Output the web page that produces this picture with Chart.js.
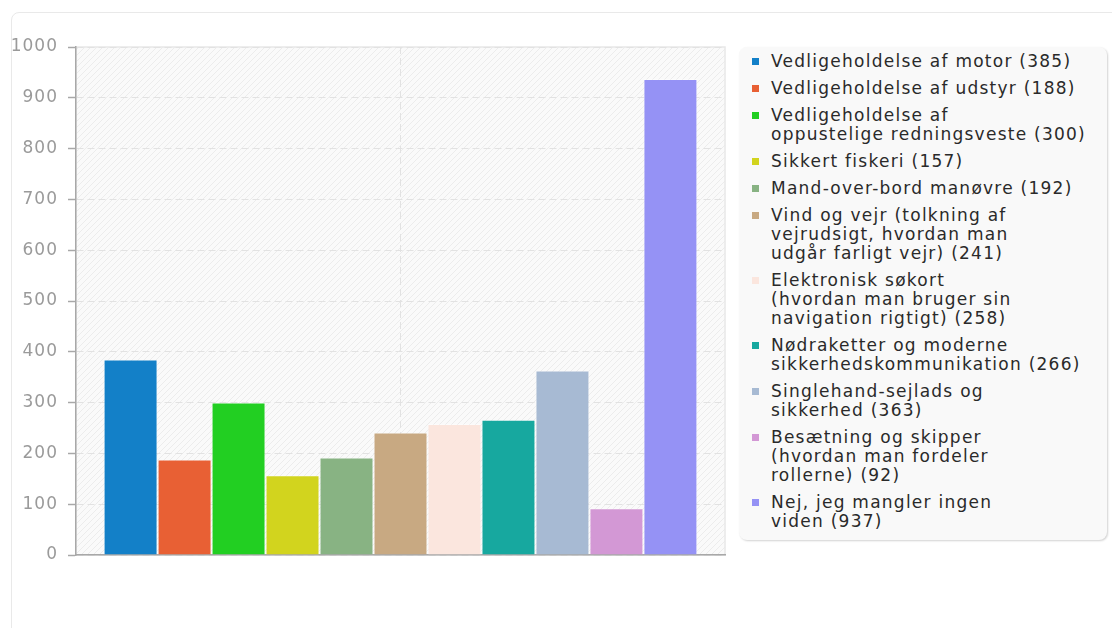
<!DOCTYPE html>
<html>
<head>
<meta charset="utf-8">
<script src="https://cdn.jsdelivr.net/npm/chart.js@4"></script>
<style>
  body { margin: 0; background: #fff; font-family: "DejaVu Sans", sans-serif; }
  #card { position: absolute; left: 11px; top: 12px; width: 1150px; height: 700px;
          border: 1.5px solid #e9e9e9; border-radius: 8px; background: #fff; }
  #wrap { position: absolute; left: 0; top: 0; width: 735px; height: 600px; }
  #legend { position: absolute; left: 739px; top: 47px; width: 368px; height: 493px;
            box-sizing: border-box; padding: 5px 0 0 13px; background: #f9f9f9;
            border-radius: 8px; box-shadow: 1px 1px 2px rgba(0,0,0,0.18); }
  .item { position: relative; padding-left: 19px; margin-bottom: 8px;
          font-size: 17px; line-height: 19px; color: #2a2a2a; white-space: pre;
          letter-spacing: 1.25px; }
  .item i { position: absolute; left: 0; top: 6px; width: 7px; height: 7px; }
</style>
</head>
<body>
<div id="card"></div>
<div id="wrap"><canvas id="myChart"></canvas></div>
<div id="legend"></div>
<script>
'use strict';

// survey answers, '\n' marks where the legend text wraps
const topics = [
  'Vedligeholdelse af motor',
  'Vedligeholdelse af udstyr',
  'Vedligeholdelse af\noppustelige redningsveste',
  'Sikkert fiskeri',
  'Mand-over-bord manøvre',
  'Vind og vejr (tolkning af\nvejrudsigt, hvordan man\nudgår farligt vejr)',
  'Elektronisk søkort\n(hvordan man bruger sin\nnavigation rigtigt)',
  'Nødraketter og moderne\nsikkerhedskommunikation',
  'Singlehand-sejlads og\nsikkerhed',
  'Besætning og skipper\n(hvordan man fordeler\nrollerne)',
  'Nej, jeg mangler ingen\nviden'
];
const answers = [385, 188, 300, 157, 192, 241, 258, 266, 363, 92, 937];
const barColors = ['#1380c8', '#e86034', '#22cf22', '#d2d41e', '#88b383', '#c8a982',
  '#fbe6de', '#17a89f', '#a7bad3', '#d398d5', '#9592f5'];
const yTicks = [0, 100, 200, 300, 400, 500, 600, 700, 800, 900, 1000];

const chartCanvas = document.getElementById('myChart');

// diagonal hatch for the plot background
function makeHatch() {
  const c = document.createElement('canvas');
  c.width = 6; c.height = 6;
  const g = c.getContext('2d');
  g.fillStyle = '#fafafa';
  g.fillRect(0, 0, 6, 6);
  g.strokeStyle = '#ececec';
  g.lineWidth = 1;
  g.beginPath();
  g.moveTo(0, 6); g.lineTo(6, 0);
  g.moveTo(-1, 1); g.lineTo(1, -1);
  g.moveTo(5, 7); g.lineTo(7, 5);
  g.stroke();
  return g.createPattern(c, 'repeat');
}

const plotBackground = {
  id: 'plotBackground',
  beforeDraw(chart) {
    const { ctx, chartArea: a } = chart;
    ctx.letterSpacing = '1px'; // tick labels look spaced out
    ctx.save();
    ctx.fillStyle = makeHatch();
    ctx.fillRect(a.left, a.top, a.width, a.height);
    ctx.strokeStyle = '#e8e8e8';
    ctx.lineWidth = 1.5;
    ctx.strokeRect(a.left, a.top, a.width, a.height);
    ctx.restore();
  }
};

const datasets = [];
for (let i = 0; i < topics.length; i++) {
  datasets.push({
    label: topics[i].replace(/\n/g, ' ') + ' (' + answers[i] + ')',
    data: [answers[i]],
    backgroundColor: barColors[i],
    borderColor: 'rgba(255,255,255,0.35)',
    borderWidth: 1,
    categoryPercentage: 0.915,
    barPercentage: 1
  });
}

new Chart(chartCanvas, {
  type: 'bar',
  data: { labels: [''], datasets: datasets },
  options: {
    responsive: true,
    maintainAspectRatio: false,
    animation: false,
    layout: { padding: { top: 47, left: 12, right: 10, bottom: 45 } },
    plugins: { legend: { display: false }, tooltip: { enabled: false } },
    scales: {
      x: {
        ticks: { display: false },
        grid: { offset: false, color: '#e2e2e2', drawTicks: false },
        border: { color: '#a8a8a8', width: 1.5, dash: [7, 4] },
        afterFit(scale) { scale.height = 0; }
      },
      y: {
        min: 0,
        max: 1000,
        afterBuildTicks(scale) { scale.ticks = yTicks.map(v => ({ value: v })); },
        ticks: {
          color: '#9a9a9a', padding: 10, font: { family: 'DejaVu Sans', size: 17 },
          callback: v => String(v)
        },
        grid: { color: '#e2e2e2', tickColor: '#a8a8a8', tickLength: 8, tickWidth: 1.5 },
        border: { color: '#a8a8a8', width: 1.5, dash: [7, 4] },
        afterFit(scale) { scale.width = 64; }
      }
    }
  },
  plugins: [plotBackground]
});

// legend drawn next to the chart
const legendBox = document.getElementById('legend');
for (let i = 0; i < topics.length; i++) {
  const row = document.createElement('div');
  row.className = 'item';
  const mark = document.createElement('i');
  mark.style.background = barColors[i];
  row.appendChild(mark);
  row.appendChild(document.createTextNode(topics[i] + ' (' + answers[i] + ')'));
  legendBox.appendChild(row);
}
</script>
</body>
</html>
